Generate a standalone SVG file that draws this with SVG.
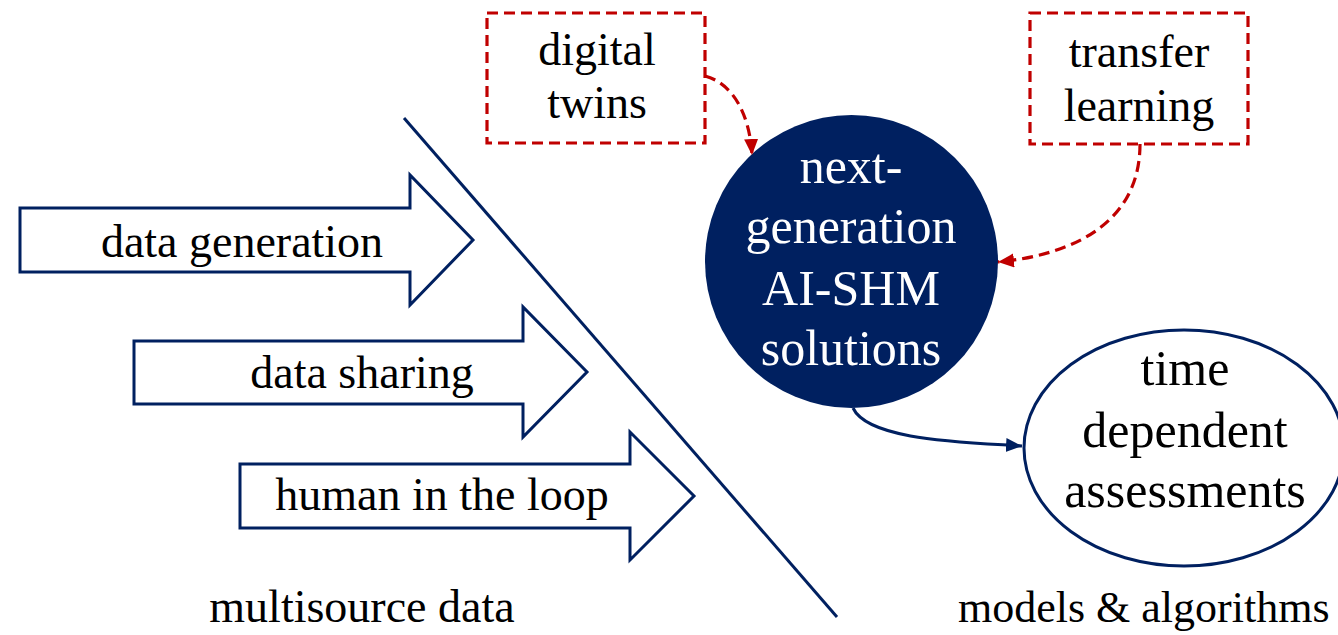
<svg xmlns="http://www.w3.org/2000/svg" width="1338" height="635" viewBox="0 0 1338 635">
  <style>
    text { font-family: "Liberation Serif", "Times New Roman", serif; fill: #000; text-anchor: middle; }
    .lbl { font-size: 46px; }
    .big { font-size: 50px; }
    .white { fill: #fff; }
    .blockarrow { fill: #fff; stroke: #002060; stroke-width: 3; stroke-linejoin: miter; }
    .dashbox { fill: #fff; stroke: #C00000; stroke-width: 3.2; stroke-dasharray: 11 6; }
    .redconn { fill: none; stroke: #C00000; stroke-width: 3.2; stroke-dasharray: 11 6; }
    .blueconn { fill: none; stroke: #002060; stroke-width: 3; }
  </style>
  <defs>
    <marker id="redhead" markerUnits="userSpaceOnUse" markerWidth="18" markerHeight="16" refX="16" refY="7" orient="auto">
      <path d="M0,0 L16,7 L0,14 z" fill="#C00000"/>
    </marker>
    <marker id="bluehead" markerUnits="userSpaceOnUse" markerWidth="18" markerHeight="16" refX="16" refY="7" orient="auto">
      <path d="M0,0 L16,7 L0,14 z" fill="#002060"/>
    </marker>
  </defs>
  <rect width="1338" height="635" fill="#fff"/>

  <g id="divider">
    <line x1="404" y1="118" x2="837" y2="617" stroke="#002060" stroke-width="3"/>
  </g>

  <g id="data-generation">
    <polygon class="blockarrow" points="20,208 410,208 410,175 473,240 410,305 410,272 20,272"/>
    <text class="lbl" x="242" y="257">data generation</text>
  </g>
  <g id="data-sharing">
    <polygon class="blockarrow" points="134,341 523,341 523,307 587,372 523,437 523,404 134,404"/>
    <text class="lbl" x="362" y="388">data sharing</text>
  </g>
  <g id="human-in-the-loop">
    <polygon class="blockarrow" points="240,464 630,464 630,432 694,496 630,560 630,528 240,528"/>
    <text class="lbl" x="442" y="510">human in the loop</text>
  </g>

  <g id="multisource-data">
    <text class="lbl" x="362" y="622">multisource data</text>
  </g>
  <g id="models-algorithms">
    <text x="958" y="622" style="text-anchor:start; font-size:44px">models &amp; algorithms</text>
  </g>

  <g id="digital-twins">
    <rect class="dashbox" x="487" y="13" width="218" height="130"/>
    <text class="lbl" x="597" y="65">digital</text>
    <text class="lbl" x="597" y="118">twins</text>
  </g>
  <g id="transfer-learning">
    <rect class="dashbox" x="1030" y="13" width="218" height="131"/>
    <text class="lbl" x="1139" y="67">transfer</text>
    <text class="lbl" x="1139" y="121">learning</text>
  </g>

  <g id="next-generation">
    <circle cx="851.5" cy="261.5" r="146.5" fill="#002060"/>
    <text class="big white" x="851" y="183">next-</text>
    <text class="big white" x="851" y="243">generation</text>
    <text class="big white" x="851" y="305">AI-SHM</text>
    <text class="big white" x="851" y="365">solutions</text>
  </g>

  <g id="time-dependent">
    <ellipse cx="1184" cy="448" rx="160" ry="118" fill="#fff" stroke="#002060" stroke-width="3"/>
    <text class="big" x="1185" y="385">time</text>
    <text class="big" x="1185" y="447">dependent</text>
    <text class="big" x="1185" y="507">assessments</text>
  </g>

  <g id="connectors">
    <path class="redconn" d="M705,76 C735,84 750,118 752,155" marker-end="url(#redhead)"/>
    <path class="redconn" d="M1140,144 C1140,225 1070,255 998,262" marker-end="url(#redhead)"/>
    <path class="blueconn" d="M853,408 C868,440 960,442 1022,446" marker-end="url(#bluehead)"/>
  </g>
</svg>
